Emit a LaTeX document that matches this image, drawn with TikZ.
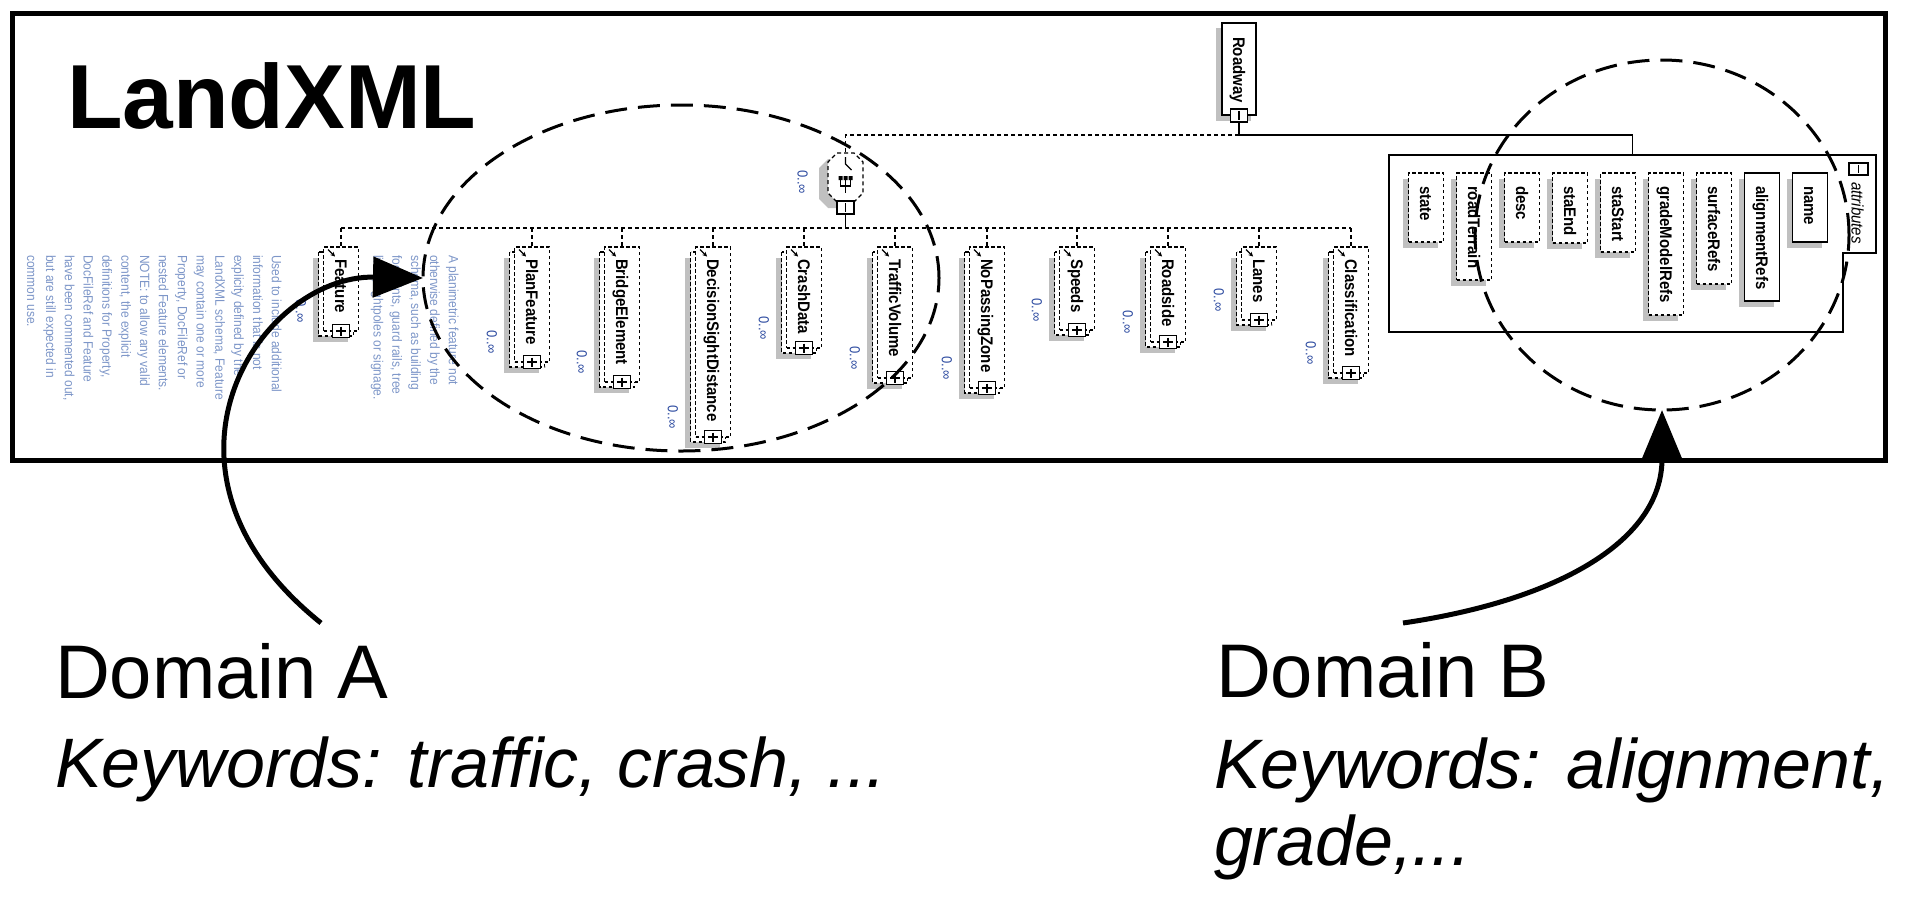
\documentclass[tikz,border=0pt]{standalone}
\usepackage{graphicx}
\usepackage{fontspec}
\setmainfont{Liberation Sans}
\usetikzlibrary{shapes.geometric,arrows.meta,calc}

\definecolor{shadowgray}{RGB}{192,192,192}
\definecolor{notetext}{RGB}{125,150,200}
\definecolor{occtext}{RGB}{45,75,160}

% schema labels are set slightly taller than wide
\newcommand\tallglyphs[1]{\scalebox{1}[1.12]{#1}}

\tikzset{
  every node/.style={inner sep=0pt, outer sep=0pt},
  conn/.style={line width=1.2pt, dash pattern=on 4pt off 3pt},
  solidconn/.style={line width=1.2pt},
  optbox/.style={draw, fill=white, line width=1.2pt, dash pattern=on 3.5pt off 2.5pt},
  reqbox/.style={draw, fill=white, line width=1.3pt},
  pmbox/.style={draw, fill=white, solid, line width=1.1pt, minimum width=17pt, minimum height=13pt},
  namelabel/.style={font=\fontsize{15}{18}\selectfont\bfseries, rotate=-90, anchor=base west},
  occlabel/.style={font=\fontsize{13}{15}\selectfont, text=occtext, rotate=-90, anchor=base east},
  notelabel/.style={font=\fontsize{12}{16.8}\selectfont, text=notetext, rotate=-90, anchor=north west},
  domainring/.style={ellipse, draw, line width=3pt, dash pattern=on 22pt off 11pt},
  pointer/.style={line width=5pt, -{Triangle[length=50pt,width=40pt]}},
  heading/.style={anchor=base west, font=\fontsize{76}{90}\selectfont},
  keywords/.style={anchor=base west, font=\fontsize{70}{77}\selectfont\itshape},
}

% plus / minus glyphs of the expand boxes (minus is vertical in this orientation)
\newcommand\plusmark[2]{\draw[line width=1.1pt] (#1-5,#2) -- (#1+5,#2) (#1,#2-4.5) -- (#1,#2+4.5);}
\newcommand\minusmark[3]{\draw[line width=1.1pt] (#1,#2-#3) -- (#1,#2+#3);}

% optional, repeatable element: shadow, stacked back box, front box, label, expand box, occurrence
\newcommand\schemaelem[4]{%
  \fill[shadowgray] (#2-28.5,258) rectangle (#2+6.5,#3+11);
  \draw[optbox] (#2-22.5,252) rectangle (#2+12.5,#3+5);
  \node[optbox, minimum width=35pt, minimum height={#3-247}, anchor=north] (#1) at (#2,247) {};
  \node[namelabel] at (#2-6,259) {\tallglyphs{#4}};
  \draw[line width=1.2pt, -{Stealth[length=4.5pt,width=4.5pt]}] (#2-13,249.5) -- (#2-6,256.5);
  \node[pmbox] (#1-pm) at (#2,#3) {};
  \plusmark{#2}{#3}
  \node[occlabel] at (#2-45.2,#3-8) {\tallglyphs{0..∞}};
}

% attribute box with shadow
\newcommand\schemaattr[5]{%
  \fill[shadowgray] (#2-23.5,179) rectangle (#2+11.5,#3+6);
  \node[#5, minimum width=35pt, minimum height={#3-173}, anchor=north] (#1) at (#2,173) {};
  \node[namelabel] at (#2-6,186) {\tallglyphs{#4}};
}

% chamfered outline of the compositor
\newcommand\octagonpath[5]{%
  \path[#5] (#1+9,#2) -- (#3-9,#2) -- (#3,#2+9) -- (#3,#4-9) -- (#3-9,#4) -- (#1+9,#4) -- (#1,#4-9) -- (#1,#2+9) -- cycle;}

\begin{document}
\begin{tikzpicture}[x=1pt,y=-1pt]
\useasboundingbox (0,0) rectangle (1920,906);

% ---------- root element ----------
\fill[shadowgray] (1215.5,28) rectangle (1250.5,121);
\node[reqbox, minimum width=34pt, minimum height=92pt, anchor=north] (roadway) at (1239,23) {};
\node[namelabel] at (1233,37) {\tallglyphs{Roadway}};
\node[pmbox] (roadway-pm) at (1239,115.5) {};
\minusmark{1239}{115.5}{4.5}

% ---------- compositor ----------
\node[minimum width=35pt, minimum height=49pt] (seq) at (845.5,177.5) {};
\octagonpath{819}{159}{854}{208}{fill=shadowgray}
\octagonpath{828}{153}{863}{202}{fill=white, draw, conn}
\draw[line width=1.1pt] (845.5,157) -- (845.5,164) -- (851.5,170);
\fill (838.5,176) rectangle (842.5,180) (843.5,176) rectangle (847.5,180) (848.5,176) rectangle (852.5,180);
\draw[line width=1.1pt] (840.5,180) -- (840.5,186) -- (850.5,186) -- (850.5,180) (845.5,180) -- (845.5,193);
\node[pmbox] (seq-pm) at (845.5,207.5) {};
\minusmark{845.5}{207.5}{4.5}
\node[occlabel] at (797.5,194) {\tallglyphs{0..∞}};

% ---------- child elements ----------
\schemaelem{feature}{341}{331}{Feature}
\schemaelem{planfeature}{532}{362}{PlanFeature}
\schemaelem{bridge}{622}{382}{BridgeElement}
\schemaelem{sight}{713}{437}{DecisionSightDistance}
\schemaelem{crash}{804}{348}{CrashData}
\schemaelem{traffic}{895}{378}{TrafficVolume}
\schemaelem{nopass}{987}{388}{NoPassingZone}
\schemaelem{speeds}{1077}{330}{Speeds}
\schemaelem{roadside}{1168}{342}{Roadside}
\schemaelem{lanes}{1259}{320}{Lanes}
\schemaelem{classif}{1351}{373}{Classification}

% ---------- attributes ----------
\node[minimum width=487pt, minimum height=177pt, anchor=north west] (attrs) at (1389,155) {};
\draw[solidconn] (attrs.north west) -- (attrs.north east) -- ($(attrs.north east)+(0,98)$)
  -- ($(attrs.north east)+(-33,98)$) -- ($(attrs.south east)+(-33,0)$) -- (attrs.south west) -- cycle;
\node[pmbox, minimum width=19pt, minimum height=12pt] (attrs-pm) at (1858.5,169) {};
\minusmark{1858.5}{169}{4}
\node[font=\fontsize{15}{18}\selectfont\itshape, rotate=-90, anchor=base west] (attrs-title) at (1851.5,182) {\tallglyphs{attributes}};

\schemaattr{state}{1426}{242}{state}{optbox}
\schemaattr{roadterrain}{1474}{280}{roadTerrain}{optbox}
\schemaattr{desc}{1522}{242}{desc}{optbox}
\schemaattr{staend}{1570}{243}{staEnd}{optbox}
\schemaattr{stastart}{1618}{252}{staStart}{optbox}
\schemaattr{grademodel}{1666}{315}{gradeModelRefs}{optbox}
\schemaattr{surface}{1714}{284}{surfaceRefs}{optbox}
\schemaattr{alignment}{1762}{301}{alignmentRefs}{reqbox}
\schemaattr{attrname}{1810}{242}{name}{reqbox}

% ---------- connectors ----------
\coordinate (rbus) at (0,135);
\coordinate (ebus) at (0,228);
\draw[solidconn] (roadway-pm.south) -- (roadway-pm.south |- rbus) -- (attrs.north |- rbus) -- (attrs.north);
\draw[conn] (roadway-pm.south |- rbus) -- (seq.north |- rbus) -- (seq.north);
\draw[solidconn] (seq-pm.south) -- (seq-pm.south |- ebus);
\draw[conn] (feature.north |- ebus) -- (classif.north |- ebus);
\foreach \n in {feature,planfeature,bridge,sight,crash,traffic,nopass,speeds,roadside,lanes,classif}
  \draw[conn] (\n.north |- ebus) -- (\n.north);

% ---------- annotations ----------
\node[notelabel] (featurenote) at (285,255) {\tallglyphs{\begin{tabular}{@{}l@{}}Used to include additional\\information that is not\\explicity defined by the\\LandXML schema, Feature\\may contain one or more\\Property, DocFileRef or\\nested Feature elements.\\NOTE: to allow any valid\\content, the explicit\\definitions for Property,\\DocFileRef and Feature\\have been commented out,\\but are still expected in\\common use.\end{tabular}}};
\node[notelabel] (plannote) at (462,255) {\tallglyphs{\begin{tabular}{@{}l@{}}A planimetric feature not\\otherwise defined by the\\schema, such as building\\footprints, guard rails, tree\\lines, lightpoles or signage.\end{tabular}}};

% ---------- domains ----------
\node[domainring, minimum width=516pt, minimum height=346pt] (domA) at (681,278) {};
\node[domainring, minimum width=374pt, minimum height=350pt] (domB) at (1662,235) {};

\node[draw, line width=5pt, minimum width=1873pt, minimum height=447pt, anchor=north west] (frame) at (12,13) {};
\node[anchor=base west, font=\fontsize{91}{100}\selectfont\bfseries] (title) at (67,128) {LandXML};

\node[heading] (domAname) at (55,698) {Domain A};
\node[keywords] (domAkeys) at (55,787) {Keywords: traffic, crash, ...};
\node[heading] (domBname) at (1216,697) {Domain B};
\node[keywords] (domBkeys) at (1214,788) {Keywords: alignment,};
\node[keywords] (domBkeys2) at (1214,865) {grade,...};

\coordinate (fromA) at (321,623);
\coordinate (fromB) at (1403,623);
\draw[pointer] (fromA) .. controls (130,470) and (260,275) .. (domA.west);
\draw[pointer] (fromB) .. controls (1560,600) and (1662,540) .. (domB.south);
\end{tikzpicture}
\end{document}
